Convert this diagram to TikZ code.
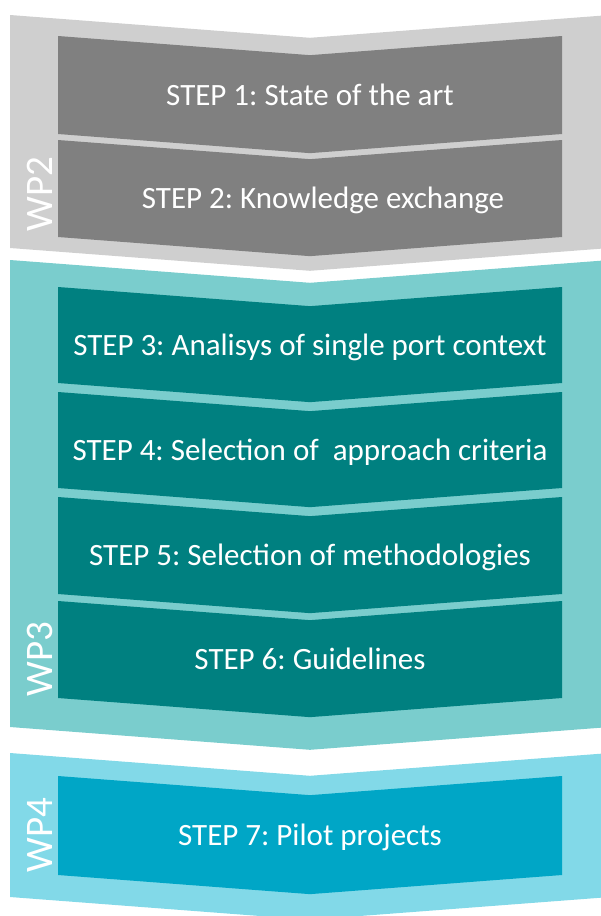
\documentclass[tikz,border=0pt]{standalone}
\usepackage{fontspec}
\setmainfont{Carlito}
\usepackage{tikz}
\usetikzlibrary{positioning}
\usepackage{xcolor}
\frenchspacing

\definecolor{wptwo}{RGB}{207,207,207}
\definecolor{steptwo}{RGB}{128,128,128}
\definecolor{wpthree}{RGB}{122,205,205}
\definecolor{stepthree}{RGB}{0,128,128}
\definecolor{wpfour}{RGB}{130,217,232}
\definecolor{stepfour}{RGB}{0,166,198}

% one chevron band: left x, top y, bottom y, fill
\newcommand{\chevshape}[4]{%
  \pgfmathsetmacro{\dip}{0.076*(310-#1)}
  \fill[#4] (#1,#2) -- (310,#2+\dip) -- (620-#1,#2) -- (620-#1,#3)
    -- (310,#3+\dip) -- (#1,#3) -- cycle;}

\begin{document}
\begin{tikzpicture}[
    x=1pt, y=-1pt,
    steptext/.style={text=white, anchor=base, inner sep=0pt,
        font=\fontsize{31}{37}\selectfont},
    wplabel/.style={text=white, anchor=base, inner sep=0pt, rotate=90,
        font=\fontsize{39}{46}\selectfont}
]
\clip (0,0) rectangle (601,916);

% work packages
\chevshape{10}{15}{248}{wptwo}
\chevshape{10}{260}{727}{wpthree}
\chevshape{10}{753}{897}{wpfour}

% steps
\foreach \n/\ya/\yb/\xt/\col/\txt in {
    1/36/134/310/steptwo/State of the art,
    2/140/237/323/steptwo/Knowledge exchange,
    3/287/383/310/stepthree/Analisys of single port context,
    4/392/488/310/stepthree/Selection of~ approach criteria,
    5/497/594/310/stepthree/Selection of methodologies,
    6/601/698/310/stepthree/Guidelines,
    7/776/875/310/stepfour/Pilot projects} {
  \chevshape{58}{\ya}{\yb}{\col}
  \node[steptext] (s\n) at (\xt,{(\ya+\yb)/2+20}) {STEP \n: \txt};
}

\node[wplabel] (wp2) at (52,194) {WP2};
\node[wplabel] (wp3) at (52,659) {WP3};
\node[wplabel] (wp4) at (52,835) {WP4};

\end{tikzpicture}
\end{document}
